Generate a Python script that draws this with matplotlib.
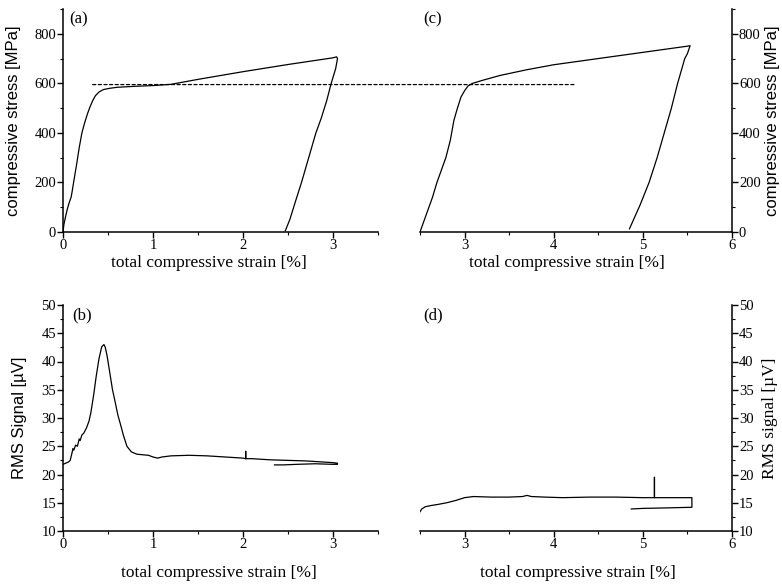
import matplotlib
matplotlib.use('Agg')
import matplotlib.pyplot as plt
from matplotlib.patches import ConnectionPatch
from matplotlib.ticker import MultipleLocator

plt.rcParams['font.family'] = ['Liberation Serif', 'DejaVu Serif']
plt.rcParams['font.size'] = 11

# (a) first loading / unloading cycle
a_strain = [0, 0.01, 0.03, 0.05, 0.07, 0.09, 0.10, 0.12, 0.15, 0.18, 0.21, 0.24,
            0.27, 0.30, 0.33, 0.36, 0.40, 0.45, 0.52, 0.60, 0.80, 1.00, 1.20,
            1.50, 2.00, 2.50, 3.00, 3.04, 3.05, 3.03, 2.98, 2.93, 2.87, 2.81,
            2.73, 2.65, 2.58, 2.52, 2.47]
a_stress = [0, 30, 65, 95, 120, 140, 160, 205, 270, 340, 400, 440,
            475, 505, 530, 550, 565, 575, 580, 584, 588, 591, 596,
            616, 647, 676, 703, 707, 700, 660, 600, 530, 460, 400,
            300, 200, 120, 50, 5]

# (c) second cycle
c_strain = [2.50, 2.54, 2.58, 2.64, 2.69, 2.74, 2.79, 2.84, 2.88, 2.92, 2.96,
            3.00, 3.04, 3.09, 3.20, 3.40, 3.70, 4.00, 4.50, 5.00, 5.50, 5.53,
            5.50, 5.47, 5.43, 5.39, 5.32, 5.24, 5.16, 5.07, 4.97, 4.85]
c_stress = [0, 40, 80, 140, 200, 250, 300, 370, 450, 500, 545,
            570, 590, 600, 612, 632, 655, 675, 700, 725, 750, 752,
            720, 700, 650, 600, 500, 400, 300, 200, 110, 13]

# (b) RMS signal, first cycle
b_strain = [0, 0.03, 0.06, 0.08, 0.10, 0.11, 0.12, 0.14, 0.16, 0.18, 0.19,
            0.21, 0.23, 0.26, 0.29, 0.31, 0.34, 0.37, 0.40, 0.43, 0.455,
            0.47, 0.49, 0.52, 0.55, 0.58, 0.61, 0.64, 0.67, 0.71, 0.76,
            0.82, 0.88, 0.95, 1.00, 1.05, 1.10, 1.20, 1.40, 1.60, 1.80,
            2.00, 2.03, 2.03, 2.03, 2.10, 2.30, 2.50, 2.70, 2.90, 3.00,
            3.05, 3.05, 3.00, 2.80, 2.60, 2.45, 2.35]
b_rms = [21.8, 22.0, 22.2, 22.5, 23.8, 24.6, 24.3, 25.2, 25.0, 26.3, 26.0,
         27.0, 27.3, 28.2, 29.5, 31.0, 34.0, 37.5, 40.5, 42.6, 43.0,
         42.5, 41.0, 38.0, 35.0, 32.8, 30.5, 28.8, 27.0, 25.0, 24.0,
         23.6, 23.5, 23.4, 23.1, 22.9, 23.1, 23.3, 23.4, 23.3, 23.1,
         22.9, 22.8, 24.1, 22.8, 22.8, 22.6, 22.5, 22.4, 22.2, 22.1,
         22.0, 21.8, 21.8, 21.9, 21.8, 21.7, 21.7]

# (d) RMS signal, second cycle
d_strain = [2.50, 2.52, 2.56, 2.62, 2.70, 2.80, 2.90, 3.00, 3.10, 3.30, 3.50,
            3.65, 3.70, 3.75, 3.90, 4.10, 4.40, 4.70, 5.00, 5.13, 5.13, 5.13,
            5.30, 5.55, 5.55, 5.30, 5.00, 4.87]
d_rms = [13.4, 13.9, 14.3, 14.5, 14.7, 15.0, 15.4, 15.9, 16.1, 16.0, 16.0,
         16.1, 16.3, 16.1, 16.0, 15.9, 16.0, 16.0, 15.9, 15.9, 19.5, 15.9,
         15.9, 15.9, 14.2, 14.1, 14.0, 13.9]

yield_stress = 595
dash_start = 0.33   # strain in (a)
dash_end = 4.25     # strain in (c)

W, H = 782, 585
fig = plt.figure(figsize=(W / 100, H / 100), dpi=100)


def box(l, t, r, b):
    return [l / W, 1 - b / H, (r - l) / W, (b - t) / H]


ax_a = fig.add_axes(box(63, 9, 378, 232))
ax_c = fig.add_axes(box(420, 9, 732, 232))
ax_b = fig.add_axes(box(63, 305, 378, 531))
ax_d = fig.add_axes(box(420, 305, 732, 531))

lw = 0.9
ax_a.plot(a_strain, a_stress, color='black', lw=lw)
ax_c.plot(c_strain, c_stress, color='black', lw=lw)
ax_b.plot(b_strain, b_rms, color='black', lw=lw)
ax_d.plot(d_strain, d_rms, color='black', lw=lw)

for ax in (ax_a, ax_b):
    ax.set_xlim(0, 3.5)
    ax.xaxis.set_major_locator(MultipleLocator(1))
    ax.spines['top'].set_visible(False)
    ax.spines['right'].set_visible(False)
for ax in (ax_c, ax_d):
    ax.set_xlim(2.5, 6)
    ax.set_xticks([3, 4, 5, 6])
    ax.spines['top'].set_visible(False)
    ax.spines['left'].set_visible(False)
    ax.yaxis.tick_right()
    ax.yaxis.set_label_position('right')
for ax in (ax_a, ax_b, ax_c, ax_d):
    ax.xaxis.set_minor_locator(MultipleLocator(0.5))
    ax.tick_params(which='major', length=4, width=1, pad=1, labelsize=10.5)
    ax.tick_params(which='minor', length=2, width=0.8)
    for s in ax.spines.values():
        s.set_linewidth(1.1)

for ax in (ax_a, ax_c):
    ax.set_ylim(0, 900)
    ax.set_yticks([0, 200, 400, 600, 800])
    ax.yaxis.set_minor_locator(MultipleLocator(100))
    ax.set_xlabel('total compressive strain [%]', fontsize=12.5)
    ax.set_ylabel('compressive stress [MPa]', family=['Liberation Sans'], fontsize=12)
for ax in (ax_b, ax_d):
    ax.set_ylim(10, 50)
    ax.yaxis.set_major_locator(MultipleLocator(5))
    ax.yaxis.set_minor_locator(MultipleLocator(2.5))
    ax.set_xlabel('total compressive strain [%]', fontsize=12.5)

ax_b.set_ylabel('RMS Signal [µV]', family=['Liberation Sans'], fontsize=12)
ax_d.set_ylabel('RMS signal [µV]', fontsize=12.5)

ax_a.xaxis.set_label_coords(0.463, -0.103)
ax_c.xaxis.set_label_coords(0.47, -0.103)
ax_b.xaxis.set_label_coords(0.495, -0.15)
ax_d.xaxis.set_label_coords(0.506, -0.15)
ax_a.yaxis.set_label_coords(-0.133, 0.5)
ax_b.yaxis.set_label_coords(-0.115, 0.5)
ax_c.yaxis.set_label_coords(1.105, 0.5)
ax_d.yaxis.set_label_coords(1.096, 0.5)

ax_a.text(0.02, 0.955, '(a)', transform=ax_a.transAxes, fontsize=12, va='center')
ax_c.text(0.01, 0.955, '(c)', transform=ax_c.transAxes, fontsize=12, va='center')
ax_b.text(0.03, 0.955, '(b)', transform=ax_b.transAxes, fontsize=12, va='center')
ax_d.text(0.01, 0.955, '(d)', transform=ax_d.transAxes, fontsize=12, va='center')

dash = ConnectionPatch(xyA=(dash_start, yield_stress), coordsA=ax_a.transData,
                       xyB=(dash_end, yield_stress), coordsB=ax_c.transData,
                       color='black', lw=0.9, linestyle=(0, (2.5, 2.0)))
fig.add_artist(dash)

plt.savefig('out.png', dpi=100)
